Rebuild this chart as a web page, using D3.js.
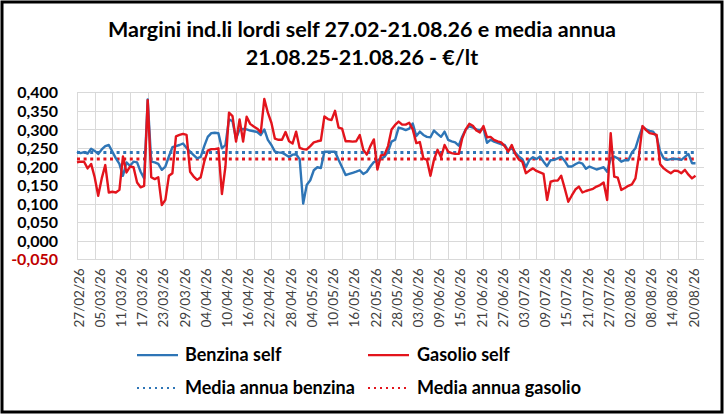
<!DOCTYPE html>
<html><head><meta charset="utf-8">
<script src="https://cdn.jsdelivr.net/npm/d3@7"></script>
<style>
html,body{margin:0;padding:0;background:#fff;}
svg{display:block;font-family:Lato,"Open Sans",sans-serif;}
</style></head>
<body><svg id="c" width="725" height="417"></svg>
<script>
// ---- data ----
const tickLabels = ["27/02/26","05/03/26","11/03/26","17/03/26","23/03/26","29/03/26","04/04/26","10/04/26","16/04/26","22/04/26","28/04/26","04/05/26","10/05/26","16/05/26","22/05/26","28/05/26","03/06/26","09/06/26","15/06/26","21/06/26","27/06/26","03/07/26","09/07/26","15/07/26","21/07/26","27/07/26","02/08/26","08/08/26","14/08/26","20/08/26"];
const benzina = [0.240,0.236,0.239,0.235,0.248,0.242,0.234,0.246,0.255,0.258,
0.240,0.222,0.207,0.175,0.211,0.202,0.213,0.211,0.186,0.168,
0.381,0.213,0.211,0.207,0.191,0.200,0.227,0.252,0.255,0.258,
0.262,0.250,0.240,0.231,0.222,0.226,0.255,0.280,0.290,0.291,
0.290,0.249,0.258,0.327,0.322,0.275,0.300,0.301,0.300,0.297,
0.295,0.293,0.285,0.300,0.272,0.258,0.240,0.238,0.237,0.232,
0.226,0.232,0.233,0.220,0.100,0.150,0.163,0.190,0.198,0.196,
0.240,0.240,0.240,0.240,0.218,0.198,0.177,0.180,0.183,0.186,
0.190,0.180,0.186,0.200,0.212,0.216,0.222,0.226,0.240,0.267,
0.272,0.305,0.302,0.298,0.302,0.316,0.282,0.294,0.285,0.280,
0.279,0.297,0.288,0.280,0.294,0.272,0.268,0.265,0.256,0.281,
0.300,0.308,0.305,0.300,0.298,0.303,0.264,0.272,0.267,0.264,
0.260,0.258,0.243,0.250,0.238,0.227,0.220,0.198,0.218,0.225,
0.220,0.227,0.213,0.201,0.217,0.218,0.222,0.226,0.215,0.200,
0.200,0.206,0.211,0.208,0.194,0.200,0.196,0.192,0.195,0.198,
0.186,0.222,0.227,0.222,0.213,0.217,0.217,0.238,0.249,0.280,
0.307,0.300,0.296,0.294,0.281,0.240,0.222,0.218,0.220,0.221,
0.220,0.218,0.226,0.234,0.209,0.209];
const gasolio = [0.211,0.213,0.213,0.195,0.207,0.171,0.121,0.168,0.204,0.130,
0.132,0.130,0.137,0.227,0.184,0.200,0.198,0.157,0.144,0.148,
0.379,0.171,0.166,0.171,0.096,0.110,0.175,0.182,0.281,0.285,
0.288,0.285,0.186,0.173,0.164,0.171,0.213,0.243,0.247,0.247,
0.249,0.126,0.200,0.345,0.336,0.267,0.327,0.267,0.334,0.315,
0.308,0.302,0.292,0.382,0.345,0.318,0.275,0.272,0.272,0.293,
0.268,0.262,0.294,0.250,0.247,0.246,0.255,0.265,0.268,0.270,
0.335,0.328,0.325,0.350,0.305,0.302,0.268,0.268,0.267,0.268,
0.285,0.245,0.232,0.255,0.273,0.192,0.230,0.232,0.255,0.300,
0.312,0.321,0.313,0.313,0.318,0.300,0.263,0.266,0.222,0.218,
0.175,0.218,0.245,0.225,0.258,0.240,0.236,0.234,0.234,0.276,
0.300,0.315,0.310,0.297,0.292,0.309,0.279,0.280,0.272,0.268,
0.265,0.255,0.240,0.258,0.234,0.219,0.213,0.182,0.189,0.195,
0.188,0.184,0.180,0.110,0.159,0.162,0.162,0.175,0.141,0.105,
0.122,0.138,0.146,0.130,0.134,0.137,0.140,0.146,0.150,0.157,
0.110,0.290,0.173,0.170,0.137,0.142,0.148,0.152,0.168,0.230,
0.309,0.298,0.290,0.288,0.285,0.206,0.195,0.188,0.182,0.189,
0.188,0.182,0.191,0.178,0.168,0.175];
const mediaBenzina = 0.238;
const mediaGasolio = 0.220;
const yTicks = [-0.05,0,0.05,0.1,0.15,0.2,0.25,0.3,0.35,0.4];
const labelStep = 6, gridStep = 5;
const titleLines = ["Margini ind.li lordi self 27.02-21.08.26 e media annua","21.08.25-21.08.26 - €/lt"];
const legendItems = [
  {name:"Benzina self", color:"#2e75b6", dotted:false},
  {name:"Gasolio self", color:"#e3141c", dotted:false},
  {name:"Media annua benzina", color:"#2e75b6", dotted:true},
  {name:"Media annua gasolio", color:"#e3141c", dotted:true}
];

// ---- drawing ----
const svg = d3.select("#c");
const W = 725, H = 417;
svg.append("rect").attr("x",0).attr("y",0).attr("width",W).attr("height",H).attr("fill","#fff");
svg.append("rect").attr("x",2).attr("y",2).attr("width",720).attr("height",410)
  .attr("fill","none").attr("stroke","#000").attr("stroke-width",3);

const n = benzina.length;
const x = d3.scaleLinear().domain([0,177.4]).range([77,704]);
const y = d3.scaleLinear().domain([-0.05,0.4]).range([259.3,92.3]);

// gridlines
const g = svg.append("g");
g.selectAll("line.h").data(yTicks).join("line")
  .attr("x1",x(0)).attr("x2",x.range()[1])
  .attr("y1",d=>Math.round(y(d))+0.5).attr("y2",d=>Math.round(y(d))+0.5)
  .attr("stroke","#d9d9d9").attr("stroke-width",1);
const vgrid = d3.range(0,n,gridStep);
g.selectAll("line.v").data(vgrid).join("line")
  .attr("x1",d=>Math.round(x(d))+0.5).attr("x2",d=>Math.round(x(d))+0.5)
  .attr("y1",y(0.4)).attr("y2",y(-0.05))
  .attr("stroke","#d9d9d9").attr("stroke-width",1);

// y axis labels
const fmt = d => d3.format(".3f")(d).replace(".",",").replace("−","-");
const yAxis = d3.axisLeft(y).tickValues(yTicks).tickFormat(fmt).tickSize(0).tickPadding(0);
const ya = svg.append("g").attr("transform","translate(58,0)").call(yAxis);
ya.select(".domain").remove();
ya.selectAll("text").attr("font-size",16).attr("font-weight","bold")
  .attr("font-family","Lato").attr("fill",d=>d<0?"#c00000":"#000").attr("dy","0.35em");

// x axis labels
const labelIdx = tickLabels.map((t,i)=>i*labelStep);
const xa = svg.append("g").attr("transform",`translate(0,${y(-0.05)})`)
  .call(d3.axisBottom(x).tickValues(labelIdx).tickFormat((d,i)=>tickLabels[i]).tickSize(0));
xa.select(".domain").remove();
xa.selectAll("text").attr("font-size",13.5).attr("font-family","Lato").attr("fill","#404040")
  .attr("text-anchor","end").attr("transform","rotate(-90)")
  .attr("x",-9).attr("y",1).attr("dy","0.38em").attr("dx",0);

// mean lines
svg.append("line").attr("x1",x(0)).attr("x2",x(n-1)).attr("y1",y(mediaBenzina)).attr("y2",y(mediaBenzina))
  .attr("stroke","#2e75b6").attr("stroke-width",3).attr("stroke-dasharray","3 3.6");
svg.append("line").attr("x1",x(0)).attr("x2",x(n-1)).attr("y1",y(mediaGasolio)).attr("y2",y(mediaGasolio))
  .attr("stroke","#e3141c").attr("stroke-width",3).attr("stroke-dasharray","3 3.6");

// series
const line = d3.line().x((d,i)=>x(i)).y(d=>y(d));
svg.append("path").datum(benzina).attr("d",line).attr("fill","none")
  .attr("stroke","#2e75b6").attr("stroke-width",2.4).attr("stroke-linejoin","round");
svg.append("path").datum(gasolio).attr("d",line).attr("fill","none")
  .attr("stroke","#e3141c").attr("stroke-width",2.4).attr("stroke-linejoin","round");

// title
svg.append("g").selectAll("text").data(titleLines).join("text")
  .attr("x",362).attr("y",(d,i)=>37+i*28).attr("text-anchor","middle")
  .attr("font-size",21.5).attr("font-weight","bold").attr("font-family","Lato").attr("fill","#000")
  .text(d=>d);

// legend
const lpos = [[137,355],[368,355],[137,388],[368,388]];
const lg = svg.append("g").selectAll("g").data(legendItems).join("g")
  .attr("transform",(d,i)=>`translate(${lpos[i][0]},${lpos[i][1]})`);
lg.append("line").attr("x1",0).attr("x2",41).attr("y1",0).attr("y2",0)
  .attr("stroke",d=>d.color).attr("stroke-width",d=>d.dotted?2:2.25)
  .attr("stroke-dasharray",d=>d.dotted?"2 4":null);
lg.append("text").attr("x",(d,i)=>i%2===0?48:49).attr("y",0).attr("dy","0.35em")
  .attr("font-size",18).attr("font-weight","bold").attr("font-family","Lato").attr("fill","#000")
  .text(d=>d.name);
</script>
</body></html>
